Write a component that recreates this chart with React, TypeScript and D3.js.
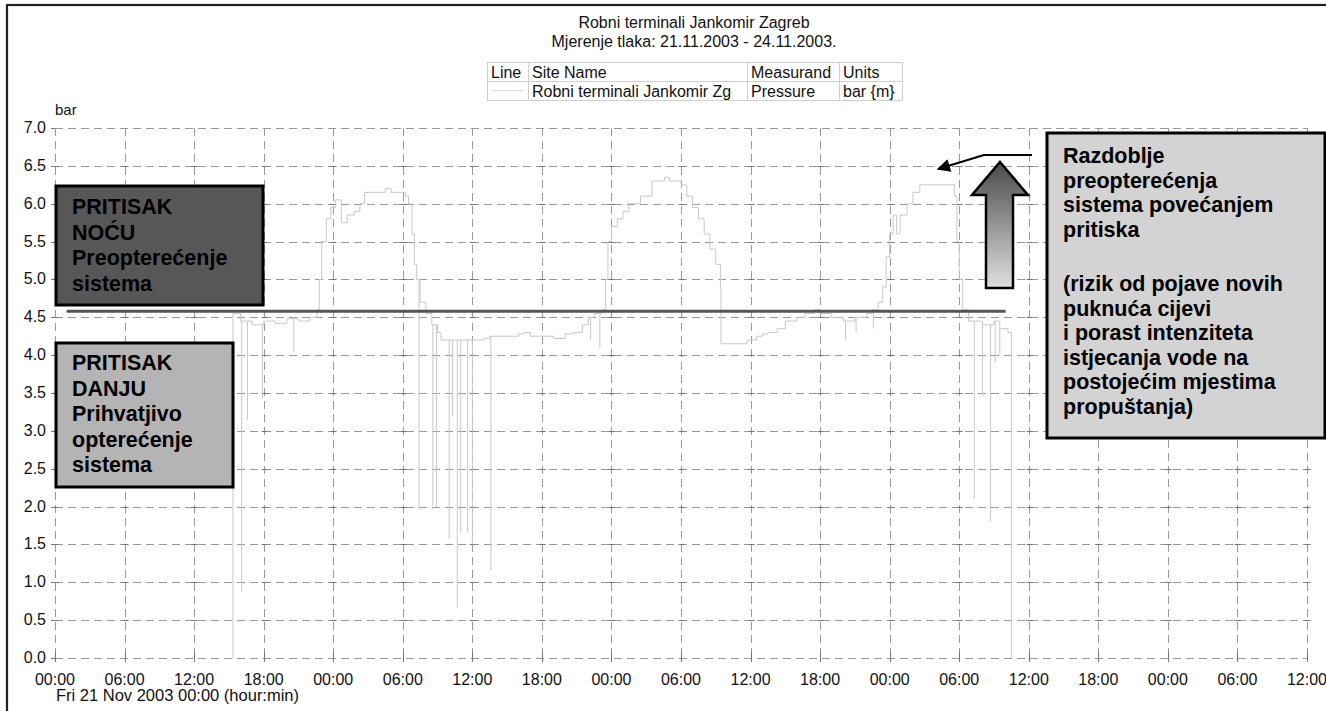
import React from "react";
import * as d3 from "d3";

// ---- data ----
const xTickHours = [0, 6, 12, 18, 24, 30, 36, 42, 48, 54, 60, 66, 72, 78, 84, 90, 96, 102, 108];
const xTickLabels = ["00:00", "06:00", "12:00", "18:00", "00:00", "06:00", "12:00", "18:00", "00:00", "06:00", "12:00", "18:00", "00:00", "06:00", "12:00", "18:00", "00:00", "06:00", "12:00"];
const yTicks = [0, 0.5, 1, 1.5, 2, 2.5, 3, 3.5, 4, 4.5, 5, 5.5, 6, 6.5, 7];

// pressure trace (hours since Fri 21 Nov 2003 00:00, bar)
const baseHours = [15.3, 15.35, 16.0, 17.0, 18.0, 19.0, 20.0, 21.0, 22.0, 22.6, 22.8, 23.0, 23.4, 23.8, 24.2, 24.7, 25.2, 25.8, 26.3, 26.7, 28.0, 28.5, 29.0, 30.2, 30.5, 30.8, 31.0, 31.2, 31.5, 32.0, 32.5, 33.0, 33.3, 35.0, 37.0, 37.5, 40.0, 40.5, 41.0, 43.0, 44.0, 44.8, 45.5, 46.0, 46.5, 47.2, 47.5, 47.7, 48.0, 48.5, 49.0, 49.5, 50.5, 51.5, 52.6, 53.0, 54.0, 54.5, 55.0, 55.5, 56.0, 56.5, 57.0, 57.4, 57.45, 59.0, 59.7, 60.5, 61.0, 61.5, 62.3, 63.0, 64.0, 64.7, 65.5, 66.0, 67.0, 68.0, 69.0, 70.0, 70.5, 71.0, 71.4, 71.7, 72.0, 72.3, 72.6, 72.9, 73.5, 74.0, 74.6, 77.3, 77.6, 77.8, 78.0, 78.3, 78.8, 80.0, 81.0, 81.5, 82.2, 82.5];
const basePressure = [0, 4.55, 4.45, 4.4, 4.45, 4.42, 4.48, 4.45, 4.5, 4.6, 5.0, 5.5, 5.8, 5.95, 6.05, 5.75, 5.85, 5.9, 6.0, 6.15, 6.15, 6.2, 6.15, 6.1, 6.0, 5.6, 5.2, 5.0, 4.7, 4.55, 4.4, 4.3, 4.2, 4.2, 4.22, 4.25, 4.28, 4.3, 4.25, 4.22, 4.28, 4.3, 4.4, 4.5, 4.55, 4.6, 5.0, 5.5, 5.7, 5.8, 5.9, 6.0, 6.1, 6.3, 6.35, 6.3, 6.25, 6.1, 5.95, 5.8, 5.6, 5.4, 5.2, 4.9, 4.15, 4.15, 4.2, 4.25, 4.28, 4.3, 4.35, 4.45, 4.5, 4.55, 4.6, 4.55, 4.5, 4.45, 4.5, 4.55, 4.6, 4.7, 4.9, 5.3, 5.6, 5.85, 5.6, 5.85, 6.0, 6.15, 6.25, 6.25, 6.1, 5.5, 5.0, 4.6, 4.45, 4.4, 4.45, 4.35, 4.3, 0];

// short pressure drops
const spikeHours = [16.1, 16.6, 17.9, 20.6, 31.4, 32.6, 32.9, 34.0, 34.3, 34.7, 35.0, 35.6, 36.0, 37.6, 46.2, 47.0, 68.2, 69.1, 70.6, 79.3, 80.0, 80.7, 81.1, 81.5];
const spikeLows = [0.87, 3.14, 3.43, 4.04, 1.96, 1.96, 2.0, 1.58, 3.2, 0.67, 1.65, 1.65, 1.5, 1.16, 4.2, 4.1, 4.2, 4.3, 4.35, 2.1, 3.47, 1.8, 3.9, 4.0];

const thresholdValue = 4.58;
const thresholdStart = 1.0;
const thresholdEnd = 82.0;

const titleLines = ["Robni terminali Jankomir Zagreb", "Mjerenje tlaka: 21.11.2003 - 24.11.2003."];
const legendHeader = ["Line", "Site Name", "Measurand", "Units"];
const legendRow = ["", "Robni terminali Jankomir Zg", "Pressure", "bar {m}"];
const nightBox = ["PRITISAK", "NOĆU", "Preopterećenje", "sistema"];
const dayBox = ["PRITISAK", "DANJU", "Prihvatjivo", "opterećenje", "sistema"];
const noteTop = ["Razdoblje", "preopterećenja", "sistema povećanjem", "pritiska"];
const noteBottom = ["(rizik od pojave novih", "puknuća cijevi", "i porast intenziteta", "istjecanja vode na", "postojećim mjestima", "propuštanja)"];

const FONT = "'Liberation Sans', Arial, Helvetica, sans-serif";

export default function App() {
  const W = 1326, H = 711;
  const x = d3.scaleLinear().domain([0, 108]).range([55, 1307]);
  const y = d3.scaleLinear().domain([0, 7]).range([658, 128]);

  const pts: [number, number][] = baseHours.map((h, i) => [h, basePressure[i]]);
  const line = d3.line<[number, number]>().x(d => x(d[0])).y(d => y(d[1])).curve(d3.curveStepAfter);
  const bis = d3.bisector((d: [number, number]) => d[0]).right;
  const baseAt = (h: number) => {
    const i = Math.max(0, bis(pts, h) - 1);
    return pts[i][1];
  };

  const legendCols = [487, 528, 747, 839, 902];
  const legendRows = [62, 81, 100];

  return (
    <svg width={W} height={H} style={{ position: "absolute", left: 0, top: 0, background: "#fff" }} fontFamily={FONT}>
      <defs>
        <linearGradient id="arrowGrad" x1="0" y1="0" x2="0" y2="1">
          <stop offset="0%" stopColor="#4a4a4a" />
          <stop offset="100%" stopColor="#e0e0e0" />
        </linearGradient>
        <marker id="ah" viewBox="0 0 10 10" refX="9" refY="5" markerWidth="7" markerHeight="6" orient="auto">
          <path d="M0,0 L10,5 L0,10 z" fill="#000" />
        </marker>
      </defs>
      {/* outer frame */}
      <rect x={7} y={5} width={1330} height={720} fill="none" stroke="#222" strokeWidth={2.2} />

      {/* title */}
      {titleLines.map((t, i) => (
        <text key={i} x={694} y={28 + i * 19} textAnchor="middle" fontSize={16} fill="#111">{t}</text>
      ))}

      {/* legend table */}
      <g stroke="#cfcfcf" strokeWidth={1}>
        {legendCols.map((c, i) => <line key={"c" + i} x1={c + 0.5} x2={c + 0.5} y1={legendRows[0]} y2={legendRows[2]} />)}
        {legendRows.map((r, i) => <line key={"r" + i} x1={legendCols[0]} x2={legendCols[4]} y1={r + 0.5} y2={r + 0.5} />)}
      </g>
      <line x1={492} x2={523} y1={90.5} y2={90.5} stroke="#ddd" />
      {legendHeader.map((t, i) => (
        <text key={"h" + i} x={legendCols[i] + 4} y={78} fontSize={16} fill="#111">{t}</text>
      ))}
      {legendRow.map((t, i) => (
        <text key={"v" + i} x={legendCols[i] + 4} y={97} fontSize={16} fill="#111">{t}</text>
      ))}

      {/* grid */}
      <g stroke="#9a9a9a" strokeWidth={1} strokeDasharray="8,5">
        {yTicks.map(v => <line key={"gy" + v} x1={55} x2={1307} y1={Math.round(y(v)) + 0.5} y2={Math.round(y(v)) + 0.5} />)}
        {xTickHours.map(h => <line key={"gx" + h} x1={Math.round(x(h)) + 0.5} x2={Math.round(x(h)) + 0.5} y1={128} y2={658} />)}
      </g>
      {/* axis ticks */}
      <g stroke="#777" strokeWidth={1}>
        {yTicks.map(v => <line key={"ty" + v} x1={51} x2={55} y1={Math.round(y(v)) + 0.5} y2={Math.round(y(v)) + 0.5} />)}
        {xTickHours.map(h => <line key={"tx" + h} x1={Math.round(x(h)) + 0.5} x2={Math.round(x(h)) + 0.5} y1={652} y2={662} />)}
        {xTickHours.map(h => yTicks.slice(1, -1).map(v => (
          <line key={"cx" + h + "_" + v} x1={Math.round(x(h)) - 2.5} x2={Math.round(x(h)) + 3.5} y1={Math.round(y(v)) + 0.5} y2={Math.round(y(v)) + 0.5} />
        )))}
      </g>

      {/* y labels */}
      {yTicks.map(v => (
        <text key={"ly" + v} x={46} y={y(v) + 5} textAnchor="end" fontSize={16} fill="#111">{v.toFixed(1)}</text>
      ))}
      <text x={55} y={115} fontSize={15} fill="#111">bar</text>
      {/* x labels */}
      {xTickHours.map((h, i) => (
        <text key={"lx" + i} x={x(h)} y={685} textAnchor="middle" fontSize={16} fill="#111">{xTickLabels[i]}</text>
      ))}
      <text x={56} y={701} fontSize={16.5} fill="#111">Fri 21 Nov 2003 00:00 (hour:min)</text>

      {/* data trace */}
      <path d={line(pts) || ""} fill="none" stroke="#c8c8c8" strokeWidth={1} />
      {spikeHours.map((h, i) => (
        <line key={"s" + i} x1={x(h)} x2={x(h)} y1={y(baseAt(h))} y2={y(spikeLows[i])} stroke="#c8c8c8" strokeWidth={1} />
      ))}

      {/* threshold line */}
      <line x1={x(thresholdStart)} x2={x(thresholdEnd)} y1={y(thresholdValue)} y2={y(thresholdValue)} stroke="#555" strokeWidth={3} />

      {/* night box */}
      <rect x={56} y={186} width={207} height={119} fill="#575757" stroke="#000" strokeWidth={3} />
      {nightBox.map((t, i) => (
        <text key={"n" + i} x={72} y={214 + i * 25.5} fontSize={21.5} fontWeight="bold" fill="#000">{t}</text>
      ))}
      {/* day box */}
      <rect x={56} y={343} width={177} height={144} fill="#b4b4b4" stroke="#000" strokeWidth={3} />
      {dayBox.map((t, i) => (
        <text key={"d" + i} x={72} y={370 + i * 25.5} fontSize={21.5} fontWeight="bold" fill="#000">{t}</text>
      ))}
      {/* note box */}
      <rect x={1047} y={133} width={278} height={305} fill="#d3d3d3" stroke="#000" strokeWidth={3} />
      {noteTop.map((t, i) => (
        <text key={"r" + i} x={1063} y={163 + i * 24.6} fontSize={21.5} fontWeight="bold" fill="#000">{t}</text>
      ))}
      {noteBottom.map((t, i) => (
        <text key={"b" + i} x={1063} y={291 + i * 24.6} fontSize={21.5} fontWeight="bold" fill="#000">{t}</text>
      ))}

      {/* up arrow */}
      <path d="M1000,162 L1028,195 L1013,195 L1013,288 L986,288 L986,195 L972,195 Z" fill="url(#arrowGrad)" stroke="#000" strokeWidth={2.5} />
      {/* pointer arrow */}
      <path d="M1032,155 L984,155 L938,169" fill="none" stroke="#000" strokeWidth={2.2} markerEnd="url(#ah)" />
    </svg>
  );
}
